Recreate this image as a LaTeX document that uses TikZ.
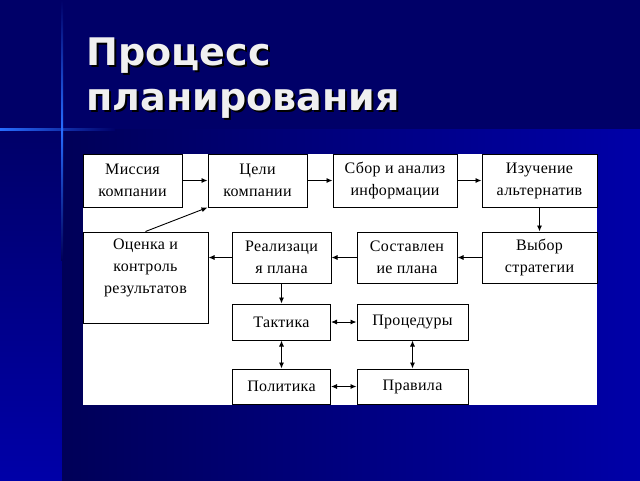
\documentclass[tikz,border=0pt]{standalone}
\usepackage{fontspec}
\setmainfont{Liberation Serif}[LetterSpace=2]
\newfontfamily\titlefont{DejaVu Sans}
\usetikzlibrary{arrows.meta}
\definecolor{navy}{RGB}{0,0,104}
\definecolor{navydark}{RGB}{0,0,88}
\definecolor{navylight}{RGB}{0,0,168}
\definecolor{ray}{RGB}{40,110,255}
\begin{document}
\begin{tikzpicture}[x=1pt, y=-1pt, >={Latex[length=6pt,width=5pt]},
    box/.style={draw=black, line width=1pt, fill=white, inner sep=0pt,
        align=center, font=\fontsize{16}{22}\selectfont},
    heading/.style={anchor=base west, align=left,
        font=\titlefont\bfseries\fontsize{38}{45}\selectfont}]
    \useasboundingbox (0, 0) rectangle (640, 480);
    % background
    \fill [navy] (0, 0) rectangle (640, 129);
    \shade [top color=navy, bottom color=navylight] (0, 129) rectangle (62, 480);
    \shade [left color=navydark, right color=navylight] (62, 129) rectangle (640, 480);
    \shade [left color=ray, right color=navy] (0, 128) rectangle (115, 130);
    \shade [top color=navy, bottom color=ray] (61, 0) rectangle (63, 129);
    \shade [top color=ray, bottom color=navydark] (61, 129) rectangle (63, 260);

    % title
    \node [heading, text=black] at (85, 112) (shadow) {Процесс\\планирования};
    \node [heading, text=white!94!black] at (83, 110) (title) {Процесс\\планирования};

    \fill [white] (83, 154) rectangle (597, 405);

    \node [box, minimum width=99pt, minimum height=53pt] at (132.5, 180.5) (miss) {Миссия\\компании};
    \node [box, minimum width=99pt, minimum height=53pt] at (257.5, 180.5) (celi) {Цели\\компании};
    \node [box, minimum width=124pt, minimum height=53pt] at (395, 180.5) (sbor) {Сбор и анализ\\информации};
    \node [box, minimum width=115pt, minimum height=53pt] at (539.5, 180.5) (izuch) {Изучение\\альтернатив};
    \node [box, minimum width=125pt, minimum height=91pt] at (145.5, 277.5) (ocen) {Оценка и\\контроль\\результатов\\~};
    \node [box, minimum width=99pt, minimum height=51pt] at (281.5, 257.5) (real) {Реализаци\\я плана};
    \node [box, minimum width=100pt, minimum height=51pt] at (407, 257.5) (sost) {Составлен\\ие плана};
    \node [box, minimum width=115pt, minimum height=51pt] at (539.5, 257.5) (vybor) {Выбор\\стратегии};
    \node [box, minimum width=98pt, minimum height=36pt] at (281.5, 322) (takt) {Тактика};
    \node [box, minimum width=111pt, minimum height=36pt] at (412.5, 322) (proc) {Процедуры};
    \node [box, minimum width=98pt, minimum height=35pt] at (281.5, 386.5) (polit) {Политика};
    \node [box, minimum width=111pt, minimum height=35pt] at (412.5, 386.5) (prav) {Правила};

    \path [->, line width=0.9pt]
        (miss) edge (celi)
        (celi) edge (sbor)
        (sbor) edge (izuch)
        (izuch) edge (vybor)
        (vybor) edge (sost)
        (sost) edge (real)
        (real.west) edge (ocen.east |- real.west)
        (ocen.north) edge (celi.south west)
        (real) edge (takt);
    \path [<->, line width=0.9pt]
        (takt) edge (proc)
        (takt) edge (polit)
        (proc) edge (prav)
        (polit) edge (prav);
\end{tikzpicture}
\end{document}
